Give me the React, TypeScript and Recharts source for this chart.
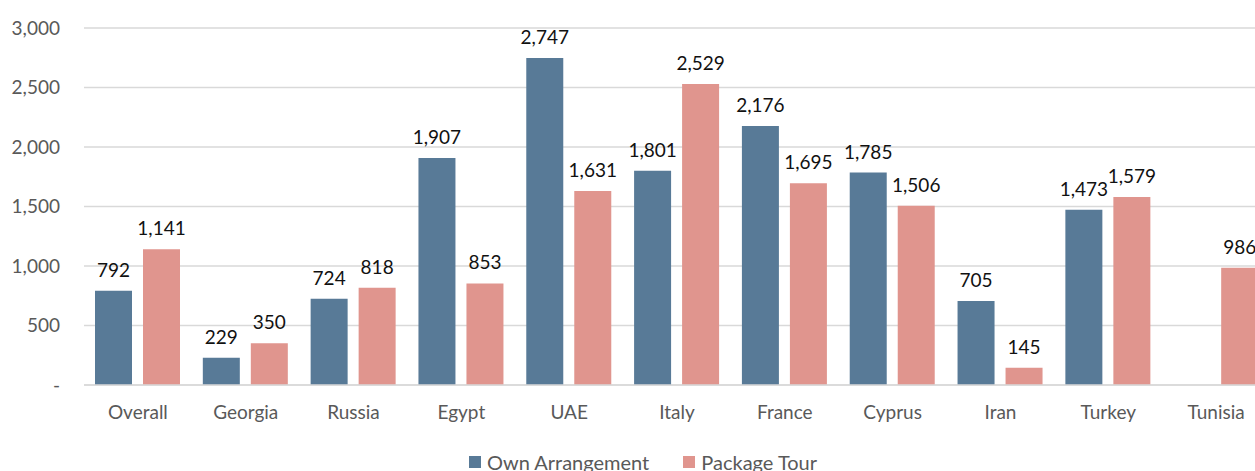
import { BarChart, Bar, XAxis, YAxis, CartesianGrid, Legend, LabelList } from "recharts";

const countries = ["Overall", "Georgia", "Russia", "Egypt", "UAE", "Italy", "France", "Cyprus", "Iran", "Turkey", "Tunisia"];
const ownArrangement = [792, 229, 724, 1907, 2747, 1801, 2176, 1785, 705, 1473, null];
const packageTour = [1141, 350, 818, 853, 1631, 2529, 1695, 1506, 145, 1579, 986];
const yTicks = [0, 500, 1000, 1500, 2000, 2500, 3000];

const BLUE = "#587a97";
const PINK = "#e0958e";
const FONT = "Lato, 'Open Sans', sans-serif";

const data = countries.map((name, i) => ({
  name,
  own: ownArrangement[i],
  tour: packageTour[i],
}));

const fmt = (v: number) => (v === 0 ? "-" : v.toLocaleString("en-US"));

const series = [
  { name: "Own Arrangement", color: BLUE },
  { name: "Package Tour", color: PINK },
];

function LegendBox() {
  return (
    <div style={{ display: "flex", justifyContent: "center", fontFamily: FONT, fontSize: 20, color: "#595959", paddingTop: 1, paddingLeft: 16 }}>
      {series.map((s) => (
        <div key={s.name} style={{ display: "flex", alignItems: "center", margin: "0 17px" }}>
          <span style={{ width: 12, height: 12, background: s.color, display: "inline-block", marginRight: 6 }} />
          <span>{s.name}</span>
        </div>
      ))}
    </div>
  );
}

export default function App() {
  return (
    <div style={{ position: "absolute", left: 0, top: 0 }}>
      <BarChart
        width={1270}
        height={480}
        data={data}
        margin={{ top: 28, right: 0, bottom: 0, left: 0 }}
        barGap={11}
        barSize={37}
      >
        <CartesianGrid vertical={false} stroke="#d9d9d9" strokeWidth={1.3} />
        <XAxis
          dataKey="name"
          height={64}
          tickLine={false}
          axisLine={{ stroke: "#d9d9d9", strokeWidth: 1.3 }}
          tick={{ fill: "#595959", fontSize: 19, fontFamily: FONT }}
          tickMargin={15}
          interval={0}
        />
        <YAxis
          width={84}
          domain={[0, 3000]}
          ticks={yTicks}
          tickFormatter={fmt}
          tickLine={false}
          axisLine={false}
          tick={{ fill: "#595959", fontSize: 19, fontFamily: FONT }}
          tickMargin={18}
        />
        <Legend verticalAlign="bottom" content={() => <LegendBox />} wrapperStyle={{ height: 31 }} />
        <Bar dataKey="own" name="Own Arrangement" fill={BLUE} isAnimationActive={false}>
          <LabelList dataKey="own" position="top" offset={14} formatter={(v: any) => (v == null ? "" : fmt(v))} style={{ fill: "#111", fontSize: 19, fontFamily: FONT }} />
        </Bar>
        <Bar dataKey="tour" name="Package Tour" fill={PINK} isAnimationActive={false}>
          <LabelList dataKey="tour" position="top" offset={14} formatter={(v: any) => fmt(v)} style={{ fill: "#111", fontSize: 19, fontFamily: FONT }} />
        </Bar>
      </BarChart>
    </div>
  );
}
